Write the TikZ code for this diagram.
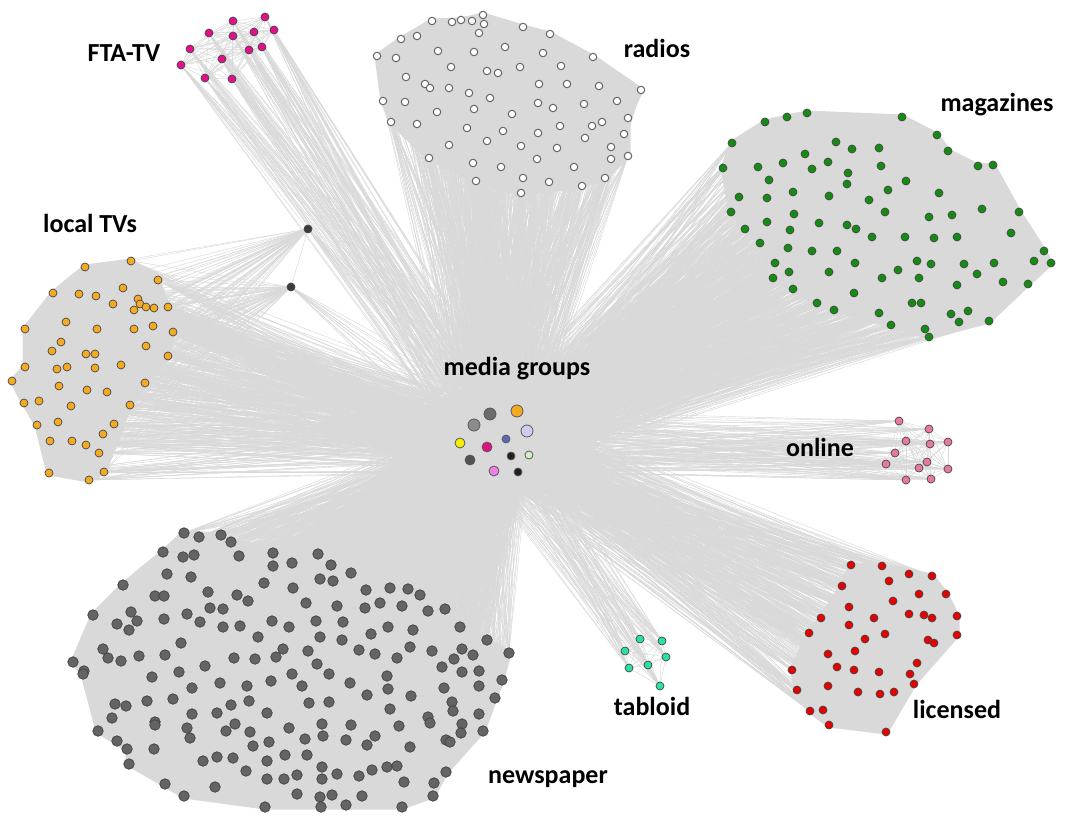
\documentclass[tikz,border=0pt]{standalone}
\usepackage{fontspec}
\setmainfont{Carlito}
\pgfdeclarelayer{backdrop}
\pgfdeclarelayer{bg}
\pgfsetlayers{backdrop,bg,main}

\definecolor{edgegray}{RGB}{217,217,217}
\definecolor{rim}{RGB}{70,70,70}
\definecolor{radiofill}{RGB}{255,255,255}
\definecolor{magfill}{RGB}{20,140,20}
\definecolor{licfill}{RGB}{230,0,0}
\definecolor{onlfill}{RGB}{232,120,160}
\definecolor{tabfill}{RGB}{40,225,165}
\definecolor{ftafill}{RGB}{225,15,140}
\definecolor{locfill}{RGB}{245,170,35}
\definecolor{newsfill}{RGB}{100,100,100}
\definecolor{lonefill}{RGB}{60,60,60}

% node lists: index / x / y  (pixel units, y downwards)
\def\radios{1/432/21,2/452/22,3/461/20,4/472/21,5/483/15,6/484/24,7/479/33,8/523/27,9/550/34,10/401/39,11/417/36,12/377/56,13/396/58,14/438/51,15/474/52,16/505/47,17/543/53,18/593/57,19/451/67,20/487/71,21/498/73,22/520/67,23/561/66,24/406/77,25/425/84,26/430/88,27/449/88,28/469/93,29/539/84,30/567/84,31/599/86,32/641/90,33/383/101,34/405/102,35/490/98,36/538/103,37/553/108,38/584/104,39/617/101,40/437/112,41/474/109,42/512/114,43/628/118,44/391/122,45/417/124,46/467/128,47/503/131,48/560/126,49/592/126,50/602/122,51/538/133,52/624/134,53/449/145,54/487/141,55/521/146,56/557/148,57/585/138,58/611/147,59/429/158,60/473/163,61/501/167,62/537/159,63/574/167,64/611/159,65/628/156,66/476/181,67/523/178,68/549/182,69/582/186,70/605/178,71/521/193}

\def\mags{1/765/122,2/787/117,3/807/113,4/902/117,5/732/143,6/836/142,7/852/149,8/879/148,9/937/135,10/948/151,11/805/154,12/828/162,13/783/163,14/812/169,15/758/167,16/723/168,17/881/166,18/978/166,19/993/165,20/848/173,21/769/180,22/847/184,23/906/181,24/888/190,25/793/192,26/939/193,27/739/197,28/767/198,29/829/196,30/869/200,31/731/212,32/794/214,33/885/212,34/929/217,35/952/215,36/982/209,37/1019/212,38/767/222,39/819/223,40/847/225,41/856/229,42/745/229,43/790/230,44/872/237,45/905/237,46/934/238,47/957/237,48/1011/233,49/760/243,50/788/248,51/812/251,52/837/251,53/1044/251,54/775/263,55/855/263,56/917/261,57/931/264,58/964/264,59/994/263,60/1034/261,61/1051/263,62/773/278,63/789/272,64/829/272,65/882/278,66/898/270,67/919/278,68/977/274,69/1003/282,70/1028/284,71/957/285,72/793/289,73/854/293,74/817/303,75/834/310,76/879/313,77/912/303,78/921/303,79/951/314,80/968/311,81/959/322,82/989/321,83/891/325,84/925/329,85/929/337}

\def\lics{1/851/565,2/882/566,3/909/574,4/932/576,5/889/581,6/842/586,7/919/594,8/946/594,9/893/601,10/849/607,11/909/614,12/924/615,13/932/618,14/957/616,15/821/618,16/874/618,17/849/625,18/885/634,19/865/639,20/928/640,21/934/643,22/957/635,23/809/633,24/855/651,25/828/654,26/917/663,27/837/667,28/854/670,29/879/672,30/910/674,31/792/670,32/914/684,33/828/686,34/797/690,35/858/692,36/880/694,37/894/692,38/810/711,39/823/710,40/829/725,41/886/732}

\def\onls{1/899/421,2/929/429,3/906/441,4/930/444,5/948/442,6/895/453,7/886/464,8/927/462,9/919/468,10/948/469,11/906/480,12/931/479}

\def\tabs{1/640/639,2/662/641,3/625/651,4/666/657,5/648/665,6/629/668,7/660/686}

\def\ftas{1/233/21,2/265/17,3/209/33,4/233/36,5/254/32,6/274/30,7/190/49,8/249/50,9/262/47,10/222/59,11/181/65,12/205/78,13/232/79}

\def\locs{1/85/267,2/131/261,3/158/280,4/53/293,5/79/294,6/96/296,7/123/288,8/113/304,9/138/299,10/140/304,11/146/307,12/134/310,13/154/308,14/168/307,15/66/322,16/25/329,17/97/329,18/134/329,19/153/326,20/173/332,21/61/342,22/52/351,23/86/354,24/95/354,25/146/346,26/168/356,27/25/367,28/57/369,29/67/367,30/95/368,31/121/365,32/12/381,33/59/386,34/87/390,35/107/392,36/145/383,37/24/403,38/39/401,39/71/406,40/130/405,41/37/425,42/58/422,43/114/424,44/103/434,45/50/441,46/72/441,47/86/445,48/99/453,49/49/473,50/104/472,51/89/480}

\def\news{1/184/533,2/199/537,3/221/535,4/231/542,5/163/552,6/183/557,7/194/555,8/239/556,9/273/553,10/273/566,11/167/574,12/191/577,13/123/585,14/264/583,15/155/596,16/164/596,17/208/592,18/237/595,19/248/601,20/210/608,21/223/609,22/131/612,23/93/615,24/117/624,25/137/621,26/129/630,27/164/619,28/187/614,29/200/622,30/223/627,31/240/626,32/272/621,33/258/637,34/181/643,35/103/649,36/108/658,37/121/661,38/139/656,39/165/655,40/205/666,41/234/658,42/255/659,43/276/657,44/73/662,45/84/671,46/83/674,47/152/677,48/179/672,49/192/688,50/220/683,51/247/686,52/271/681,53/115/704,54/126/706,55/147/701,56/173/699,57/249/701,58/231/705,59/112/718,60/155/722,61/155/725,62/192/714,63/217/713,64/267/713,65/235/724,66/226/731,67/187/728,68/190/738,69/250/732,70/98/731,71/117/741,72/127/749,73/154/749,74/253/746,75/269/742,76/129/764,77/203/761,78/217/757,79/233/758,80/246/771,81/267/761,82/267/779,83/165/784,84/215/787,85/184/796,86/265/807,87/318/554,88/292/563,89/331/565,90/320/579,91/333/581,92/351/573,93/293/588,94/366/590,95/390/588,96/408/589,97/420/595,98/306/603,99/337/606,100/365/608,101/380/603,102/402/606,103/428/611,104/445/609,105/289/627,106/316/621,107/343/622,108/320/637,109/342/640,110/371/634,111/388/627,112/413/630,113/460/627,114/487/640,115/283/649,116/308/651,117/359/650,118/375/654,119/397/658,120/410/647,121/432/651,122/462/649,123/473/655,124/454/659,125/509/653,126/317/664,127/292/674,128/329/674,129/442/667,130/462/672,131/479/671,132/302/686,133/350/683,134/387/676,135/388/689,136/367/695,137/411/696,138/444/688,139/479/686,140/502/680,141/495/698,142/309/703,143/329/702,144/452/702,145/453/711,146/390/709,147/289/728,148/322/724,149/351/725,150/399/726,151/428/717,152/430/723,153/462/724,154/479/714,155/305/739,156/323/736,157/346/740,158/367/745,159/375/736,160/410/747,161/446/740,162/450/742,163/461/733,164/483/731,165/285/755,166/307/755,167/322/767,168/322/779,169/337/774,170/359/776,171/372/770,172/387/767,173/397/766,174/404/782,175/434/783,176/446/772,177/284/779,178/297/775,179/297/794,180/320/797,181/332/795,182/346/805,183/362/796,184/402/807,185/433/796,186/321/807}

\begin{document}
\begin{tikzpicture}[x=1pt,y=-1pt,
  edge/.style={draw=edgegray,line width=0.45pt},
  hull/.style={fill=edgegray,draw=edgegray,line width=5pt,line join=round},
  dot/.style={circle,inner sep=0pt,draw=rim,line width=0.7pt},
  radio/.style={dot,fill=radiofill,minimum size=7.5pt,draw=black!60,line width=1pt},
  mag/.style={dot,fill=magfill,minimum size=8pt},
  lic/.style={dot,fill=licfill,minimum size=8pt},
  onl/.style={dot,fill=onlfill,minimum size=8pt},
  tab/.style={dot,fill=tabfill,minimum size=8pt},
  fta/.style={dot,fill=ftafill,minimum size=8pt},
  loc/.style={dot,fill=locfill,minimum size=8pt},
  newsdot/.style={dot,fill=newsfill,minimum size=10.5pt,draw=black!75},
  lone/.style={dot,fill=lonefill,minimum size=8pt},
  grp/.style={dot,draw=black!65,line width=0.8pt},
  lbl/.style={font=\fontsize{26}{30}\selectfont\bfseries,anchor=base,inner sep=0pt}]

\useasboundingbox (0,0) rectangle (1069,818);
\begin{pgfonlayer}{backdrop}
  \fill[white] (0,0) rectangle (1069,818);
\end{pgfonlayer}

% media groups at the centre
\node[grp,fill=black!58,minimum size=12pt] (m1) at (490,414) {};
\node[grp,fill={rgb,255:red,245;green,168;blue,35},minimum size=12pt] (m2) at (517,411) {};
\node[grp,fill=black!45,minimum size=12pt] (m3) at (474,425) {};
\node[grp,fill={rgb,255:red,205;green,205;blue,240},minimum size=12pt] (m4) at (527,431) {};
\node[grp,fill={rgb,255:red,245;green,240;blue,0},minimum size=10pt] (m5) at (460,443) {};
\node[grp,fill={rgb,255:red,225;green,15;blue,130},minimum size=10pt] (m6) at (487,447) {};
\node[grp,fill={rgb,255:red,90;green,105;blue,185},minimum size=8pt] (m7) at (506,439) {};
\node[grp,fill=black!68,minimum size=10pt] (m8) at (470,460) {};
\node[grp,fill=black!88,minimum size=8pt] (m9) at (511,456) {};
\node[grp,fill={rgb,255:red,210;green,240;blue,195},minimum size=8pt] (m10) at (529,455) {};
\node[grp,fill={rgb,255:red,235;green,130;blue,230},minimum size=10pt] (m11) at (494,471) {};
\node[grp,fill=black!88,minimum size=8pt] (m12) at (518,472) {};

% two stand-alone outlets
\node[lone] (q1) at (308,229) {};
\node[lone] (q2) at (291,287) {};

% outlet clusters
\foreach \i/\x/\y in \radios {\node[radio] (r\i) at (\x,\y) {};}
\foreach \i/\x/\y in \mags {\node[mag] (g\i) at (\x,\y) {};}
\foreach \i/\x/\y in \lics {\node[lic] (l\i) at (\x,\y) {};}
\foreach \i/\x/\y in \onls {\node[onl] (o\i) at (\x,\y) {};}
\foreach \i/\x/\y in \tabs {\node[tab] (t\i) at (\x,\y) {};}
\foreach \i/\x/\y in \ftas {\node[fta] (f\i) at (\x,\y) {};}
\foreach \i/\x/\y in \locs {\node[loc] (v\i) at (\x,\y) {};}
\foreach \i/\x/\y in \news {\node[newsdot] (n\i) at (\x,\y) {};}

% cluster labels
\node[lbl] (lab1) at (124,62) {FTA-TV};
\node[lbl] (lab2) at (657,58) {radios};
\node[lbl] (lab3) at (997,112) {magazines};
\node[lbl] (lab4) at (90,233) {local TVs};
\node[lbl] (lab5) at (517,376) {media groups};
\node[lbl] (lab6) at (820,456) {online};
\node[lbl] (lab7) at (652,715) {tabloid};
\node[lbl] (lab8) at (957,718) {licensed};
\node[lbl] (lab9) at (548,783) {newspaper};

\begin{pgfonlayer}{bg}
  % dense intra-cluster wiring shown as filled hulls
  \fill[hull] (r12.center) foreach \k in {10,1,3,5,8,9,18,32,43,65,70,69,71,66,59,44,33}{ -- (r\k.center)} -- cycle;
  \fill[hull] (g16.center) foreach \k in {5,1,2,3,4,9,10,18,19,37,53,61,70,82,85,83,75,74,72,62,49,42,31}{ -- (g\k.center)} -- cycle;
  \fill[hull] (l1.center) foreach \k in {2,4,8,14,22,32,41,40,38,34,31,23,15,6}{ -- (l\k.center)} -- cycle;
  \fill[hull] (v4.center) foreach \k in {1,2,3,14,20,26,36,40,50,51,49,41,37,32,27,16}{ -- (v\k.center)} -- cycle;
  \fill[hull] (n44.center) foreach \k in {23,13,5,1,3,4,87,92,96,104,114,125,140,141,164,176,185,184,186,86,85,76,72,70,46}{ -- (n\k.center)} -- cycle;

  % all-pairs wiring inside the small clusters
  \foreach \a in {1,...,12}{\foreach \b in {1,...,12}{\ifnum\a<\b \draw[edge] (o\a.center) -- (o\b.center);\fi}}
  \foreach \a in {1,...,7}{\foreach \b in {1,...,7}{\ifnum\a<\b \draw[edge] (t\a.center) -- (t\b.center);\fi}}
  \foreach \a in {1,...,13}{\foreach \b in {1,...,13}{\ifnum\a<\b \draw[edge] (f\a.center) -- (f\b.center);\fi}}

  % ownership links from every outlet to the media groups
  \foreach \i/\x/\y in \radios {\foreach \m in {1,...,12}{\draw[edge] (r\i.center) -- (m\m.center);}}
  \foreach \i/\x/\y in \mags {\foreach \m in {1,...,12}{\draw[edge] (g\i.center) -- (m\m.center);}}
  \foreach \i/\x/\y in \lics {\foreach \m in {1,...,12}{\draw[edge] (l\i.center) -- (m\m.center);}}
  \foreach \i/\x/\y in \onls {\foreach \m in {1,...,12}{\draw[edge] (o\i.center) -- (m\m.center);}}
  \foreach \i/\x/\y in \tabs {\foreach \m in {1,...,12}{\draw[edge] (t\i.center) -- (m\m.center);}}
  \foreach \i/\x/\y in \ftas {\foreach \m in {1,...,12}{\draw[edge] (f\i.center) -- (m\m.center);}}
  \foreach \i/\x/\y in \locs {\foreach \m in {1,...,12}{\draw[edge] (v\i.center) -- (m\m.center);}}
  \foreach \i/\x/\y in \news {\foreach \m in {1,...,12}{\draw[edge] (n\i.center) -- (m\m.center);}}

  % stand-alone outlets
  \foreach \i/\x/\y in \locs {\draw[edge] (v\i.center) -- (q1.center); \draw[edge] (v\i.center) -- (q2.center);}
  \foreach \m in {1,...,12}{\draw[edge] (q1.center) -- (m\m.center); \draw[edge] (q2.center) -- (m\m.center);}
  \draw[edge] (q1.center) -- (q2.center);
\end{pgfonlayer}
\end{tikzpicture}
\end{document}
